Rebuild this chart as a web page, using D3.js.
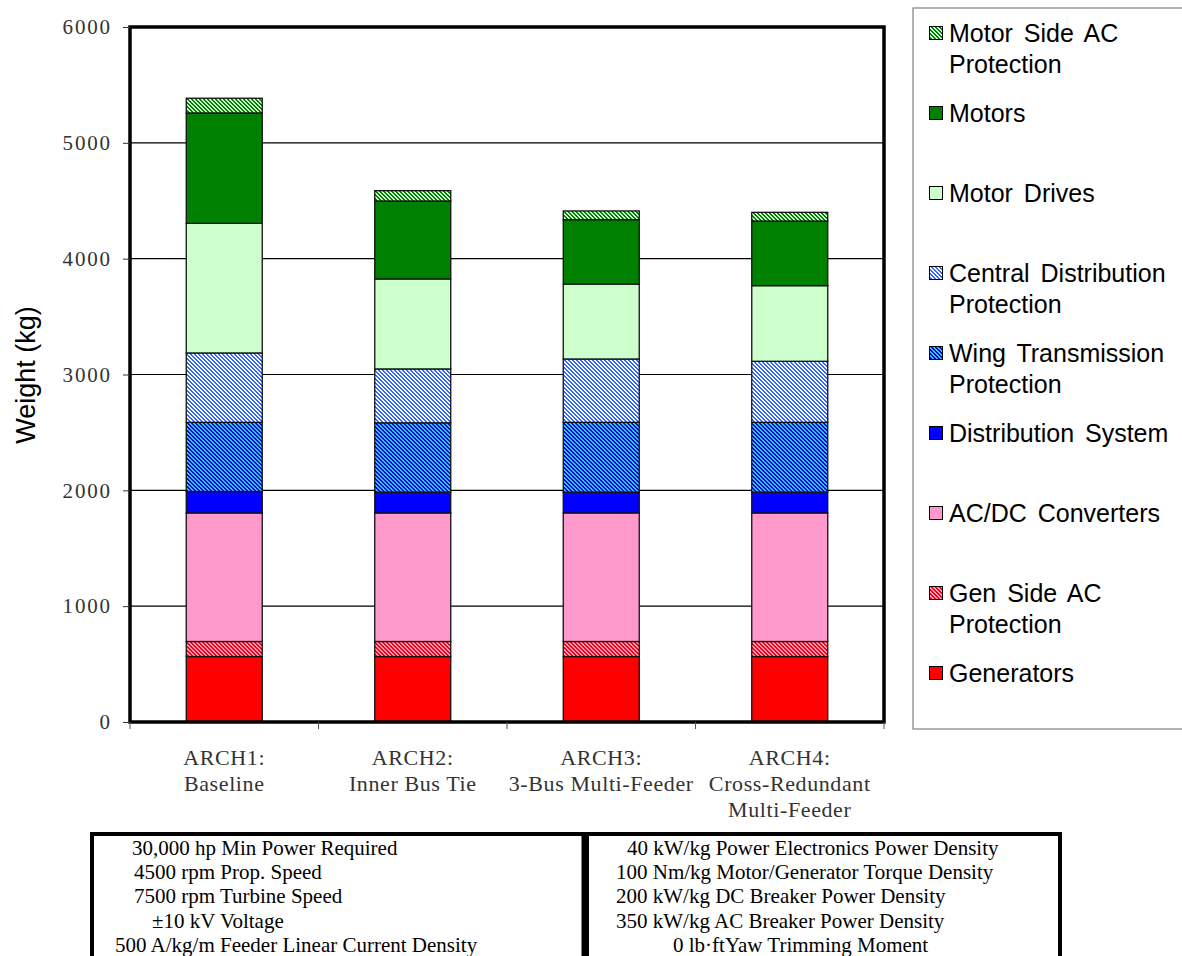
<!DOCTYPE html>
<html><head><meta charset="utf-8">
<script src="https://cdn.jsdelivr.net/npm/d3@7"></script>
<style>body{margin:0;background:#fff}</style>
</head><body><svg id="c" width="1182" height="956"></svg>
<script>
// ---------- DATA ----------
const categories = ["ARCH1", "ARCH2", "ARCH3", "ARCH4"];
const categoryLabels = [
  ["ARCH1:", "Baseline"],
  ["ARCH2:", "Inner Bus Tie"],
  ["ARCH3:", "3-Bus Multi-Feeder"],
  ["ARCH4:", "Cross-Redundant", "Multi-Feeder"]
];
const seriesNames = ["Generators", "Gen Side AC Protection", "AC/DC Converters", "Distribution System",
  "Wing Transmission Protection", "Central Distribution Protection", "Motor Drives", "Motors", "Motor Side AC Protection"];
const legendLabels = [["Generators"], ["Gen Side AC", "Protection"], ["AC/DC Converters"], ["Distribution System"],
  ["Wing Transmission", "Protection"], ["Central Distribution", "Protection"], ["Motor Drives"], ["Motors"], ["Motor Side AC", "Protection"]];
const generators   = [565, 565, 565, 565];
const genSideAC    = [130, 130, 130, 130];
const acdc         = [1110, 1110, 1110, 1110];
const distribution = [185, 180, 180, 180];
const wingTrans    = [597, 598, 602, 602];
const centralDist  = [599, 465, 547, 527];
const motorDrives  = [1119, 777, 647, 653];
const motors       = [953, 673, 556, 558];
const motorSideAC  = [127, 89, 75, 75];
const seriesValues = [generators, genSideAC, acdc, distribution, wingTrans, centralDist, motorDrives, motors, motorSideAC];
const yTicks = [0, 1000, 2000, 3000, 4000, 5000, 6000];
const leftLines = ["30,000 hp Min Power Required", "4500 rpm Prop. Speed", "7500 rpm Turbine Speed", "\u00B110 kV Voltage", "500 A/kg/m Feeder Linear Current Density"];
const rightLines = ["40 kW/kg Power Electronics Power Density", "100 Nm/kg Motor/Generator Torque Density", "200 kW/kg DC Breaker Power Density", "350 kW/kg AC Breaker Power Density", "0 lb\u00B7ftYaw Trimming Moment"];

// ---------- LAYOUT / STYLE ----------
const svg = d3.select("#c");
const X0 = 130, X1 = 884, Y0 = 722, Y1 = 27;
const x = d3.scaleBand().domain(categories).range([X0, X1]).padding(0);
const y = d3.scaleLinear().domain([0, 6000]).range([Y0, Y1]);
const barW = 76;

const defs = svg.append("defs");
// pixel-aligned "\" diagonal stripes, 4px period, 2px wide
function stripe(id, bg, fg) {
  const p = defs.append("pattern").attr("id", id).attr("patternUnits", "userSpaceOnUse")
    .attr("width", 4).attr("height", 4);
  p.append("rect").attr("width", 4).attr("height", 4).attr("fill", bg);
  const d = "M0,0h2v1h-2z M1,1h2v1h-2z M2,2h2v1h-2z M3,3h1v1h-1z M0,3h1v1h-1z";
  p.append("path").attr("d", d).attr("fill", fg).attr("shape-rendering", "crispEdges");
}
stripe("pGen", "#FF99CC", "#FF0000");
stripe("pWing", "#33CCCC", "#0000FF");
stripe("pCent", "#FFFFFF", "#3366FF");
stripe("pMot", "#CCFFCC", "#008000");
const fills = ["#FF0000", "url(#pGen)", "#FF99CC", "#0000FF", "url(#pWing)", "url(#pCent)", "#CCFFCC", "#008000", "url(#pMot)"];

svg.append("rect").attr("width", 1182).attr("height", 956).attr("fill", "#fff");

// gridlines
svg.append("g").selectAll("line").data(yTicks.filter(t => t > 0 && t < 6000)).join("line")
  .attr("x1", X0).attr("x2", X1).attr("y1", d => y(d)).attr("y2", d => y(d))
  .attr("stroke", "#000").attr("stroke-width", 1.2);

// stacked bars
const table = categories.map((c, i) => {
  const o = { cat: c };
  seriesNames.forEach((s, j) => o[s] = seriesValues[j][i]);
  return o;
});
const stack = d3.stack().keys(seriesNames)(table);
svg.append("g").selectAll("g").data(stack).join("g")
  .attr("fill", (d, i) => fills[i])
  .selectAll("rect").data(d => d).join("rect")
  .attr("x", d => x(d.data.cat) + x.bandwidth() / 2 - barW / 2)
  .attr("width", barW)
  .attr("y", d => y(d[1]))
  .attr("height", d => y(d[0]) - y(d[1]))
  .attr("stroke", "#111").attr("stroke-width", 1.3);

// plot frame
svg.append("rect").attr("x", X0).attr("y", Y1).attr("width", X1 - X0).attr("height", Y0 - Y1)
  .attr("fill", "none").attr("stroke", "#000").attr("stroke-width", 3.5);

// y axis
const yAxis = d3.axisLeft(y).tickValues(yTicks).tickSize(7).tickPadding(13).tickFormat(d3.format("d"));
const gy = svg.append("g").attr("transform", `translate(${X0},0)`).call(yAxis);
gy.select(".domain").remove();
gy.selectAll(".tick line").attr("stroke", "#333");
gy.selectAll(".tick text").attr("font-family", "'Liberation Serif','Times New Roman',serif")
  .attr("font-size", 21).attr("fill", "#333").attr("letter-spacing", 1.8).attr("dx", 1.8);

// x axis ticks at band boundaries
const xb = categories.map(c => x(c)).concat([X1]);
svg.append("g").selectAll("line").data(xb).join("line")
  .attr("x1", d => d).attr("x2", d => d).attr("y1", Y0).attr("y2", Y0 + 7)
  .attr("stroke", "#555").attr("stroke-width", 1);

// x labels
const xl = svg.append("g").attr("font-family", "'Liberation Serif','Times New Roman',serif")
  .attr("font-size", 22).attr("fill", "#333").attr("text-anchor", "middle").attr("letter-spacing", 0.6);
categoryLabels.forEach((lines, i) => {
  lines.forEach((t, k) => {
    xl.append("text").attr("x", x(categories[i]) + x.bandwidth() / 2).attr("y", 765 + 26 * k).text(t);
  });
});

// y label
svg.append("text").attr("transform", "translate(35,375) rotate(-90)").attr("text-anchor", "middle")
  .attr("font-family", "'Liberation Sans',Arial,sans-serif").attr("font-size", 27).text("Weight (kg)");

// legend
svg.append("rect").attr("x", 913).attr("y", 8).attr("width", 300).attr("height", 721)
  .attr("fill", "#fff").attr("stroke", "#808080").attr("stroke-width", 1.2);
const lg = svg.append("g").attr("font-family", "'Liberation Sans',Arial,sans-serif").attr("font-size", 25).attr("word-spacing", 4);
const order = d3.range(seriesNames.length).reverse();
order.forEach((si, k) => {
  const by = 42 + 80 * k;
  lg.append("rect").attr("x", 929.5).attr("y", by - 15.5).attr("width", 13).attr("height", 13)
    .attr("fill", fills[si]).attr("stroke", "#000").attr("stroke-width", 1);
  legendLabels[si].forEach((t, j) => {
    lg.append("text").attr("x", 949).attr("y", by + 30.5 * j).text(t);
  });
});

// parameter table
const tb = svg.append("g");
tb.append("rect").attr("x", 92).attr("y", 834).attr("width", 491.5).attr("height", 200)
  .attr("fill", "#fff").attr("stroke", "#000").attr("stroke-width", 4);
tb.append("rect").attr("x", 587).attr("y", 834).attr("width", 473).attr("height", 200)
  .attr("fill", "#fff").attr("stroke", "#000").attr("stroke-width", 4);
const leftIndent = [132, 134, 134, 152, 115];
const rightIndent = [627, 616, 616, 616, 673];
const tt = tb.append("g").attr("font-family", "'Liberation Serif','Times New Roman',serif").attr("font-size", 21).attr("fill", "#000");
leftLines.forEach((t, i) => tt.append("text").attr("x", leftIndent[i]).attr("y", 855 + 24.2 * i).text(t));
rightLines.forEach((t, i) => tt.append("text").attr("x", rightIndent[i]).attr("y", 855 + 24.2 * i).text(t));
</script>
</body></html>
